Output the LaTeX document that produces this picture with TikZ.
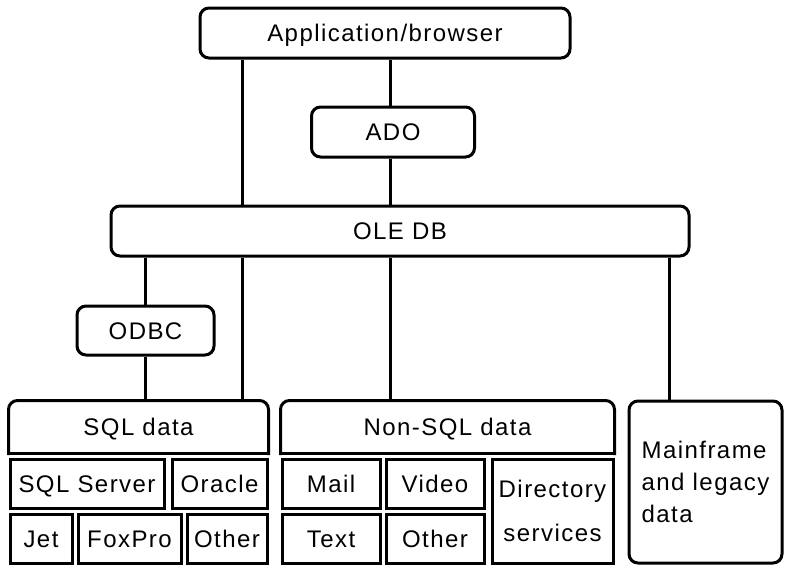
\documentclass[tikz,border=0pt]{standalone}
\usepackage{fontspec}
\setmainfont{Liberation Sans}[LetterSpace=6]
\begin{document}
\begin{tikzpicture}[x=1pt,y=-1pt,line width=3pt,
  lbl/.style={font=\fontsize{24}{32}\selectfont,inner sep=0pt},
  one/.style={lbl,text height=17pt,text depth=0pt},
  wh/.style 2 args={minimum width=#1,minimum height=#2},
  rbox/.style={draw,rounded corners=9pt,one},
  sbox/.style={draw,one},
  hdr/.style={one},
  hdrline/.style={rounded corners=9pt,line cap=rect}]
\useasboundingbox (0,0) rectangle (787,565);
% top layer
\node[rbox,wh={370pt}{50pt}] (app) at (385,33) {Application/browser};
\node[rbox,wh={163pt}{50pt}] (ado) at (393,132) {ADO};
\node[rbox,wh={578pt}{50pt}] (ole) at (400,231) {OLE DB};
\node[rbox,wh={137pt}{49pt}] (odbc) at (145.5,330.5) {ODBC};
% SQL data group
\node[hdr,wh={257pt}{50pt}] (sql) at (138.5,427) {SQL data};
\node[sbox,wh={154pt}{49pt}] (sqlsrv) at (87,483.5) {SQL Server};
\node[sbox,wh={95pt}{49pt}] (oracle) at (219.5,483.5) {Oracle};
\node[sbox,wh={62pt}{49pt}] (jet) at (41,538.5) {Jet};
\node[sbox,wh={103pt}{49pt}] (foxpro) at (129.5,538.5) {FoxPro};
\node[sbox,wh={80pt}{49pt}] (other1) at (227,538.5) {Other};
% Non-SQL data group
\node[hdr,wh={331pt}{50pt}] (nonsql) at (447.5,427) {Non-SQL data};
\node[sbox,wh={98pt}{49pt}] (mail) at (331,483.5) {Mail};
\node[sbox,wh={98pt}{49pt}] (video) at (435,483.5) {Video};
\node[sbox,wh={98pt}{49pt}] (text) at (331,538.5) {Text};
\node[sbox,wh={98pt}{49pt}] (other2) at (435,538.5) {Other};
\node[draw,lbl,align=center,wh={121pt}{104pt}] (dir) at (552.5,511) {Directory\\[12pt]services};
% Mainframe
\node[draw,rounded corners=9pt,lbl,align=left,wh={153pt}{162pt}] (main) at (705.5,482) {Mainframe\\and legacy\\data};
% header outlines (rounded top corners only)
\foreach \n in {sql,nonsql}{
  \draw[hdrline] (\n.south west) -- (\n.north west) -- (\n.north east) -- (\n.south east);
  \draw[line cap=rect] (\n.south west) -- (\n.south east);
}
% connector columns
\coordinate (c1) at (145,0);
\coordinate (c2) at (242,0);
\coordinate (c3) at (390,0);
\coordinate (c4) at (669,0);
\draw (app.south -| c2) -- (ole.north -| c2);
\draw (app.south -| c3) -- (ado.north -| c3);
\draw (ado.south -| c3) -- (ole.north -| c3);
\draw (ole.south -| c1) -- (odbc.north -| c1);
\draw (odbc.south -| c1) -- (sql.north -| c1);
\draw (ole.south -| c2) -- (sql.north -| c2);
\draw (ole.south -| c3) -- (nonsql.north -| c3);
\draw (ole.south -| c4) -- (main.north -| c4);
\end{tikzpicture}
\end{document}
